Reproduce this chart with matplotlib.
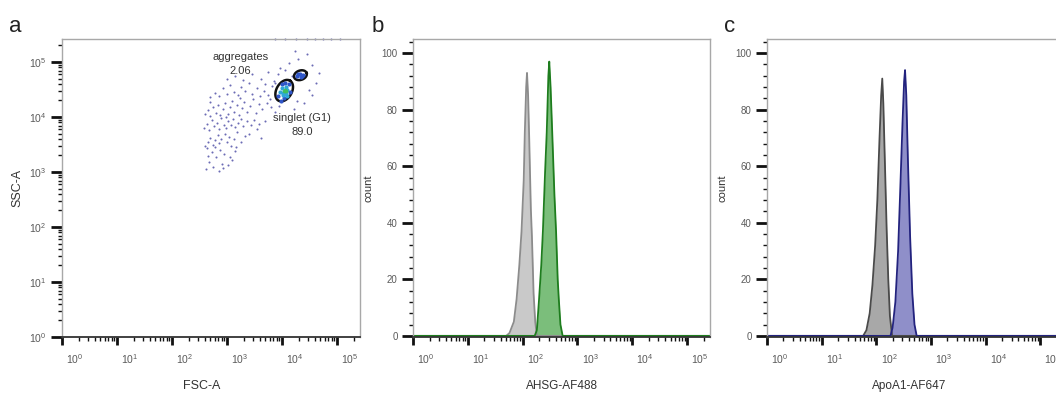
"""
Flow cytometry figure: FSC/SSC gating dot plot (a) and two
fluorescence histograms against an unstained control (b, c).
"""

import matplotlib

matplotlib.use("Agg")
import matplotlib.pyplot as plt
import matplotlib.transforms as mtransforms
import numpy as np
from matplotlib.ticker import LogLocator, MultipleLocator, NullFormatter

plt.rcParams["font.family"] = ["Liberation Sans", "DejaVu Sans"]
plt.rcParams["mathtext.fontset"] = "custom"
plt.rcParams["mathtext.rm"] = "Liberation Sans"
plt.rcParams["mathtext.it"] = "Liberation Sans"

# ---- panel a: FSC-A / SSC-A events (log10 units) --------------------------
cloud_fsc = [
    2.62, 2.68, 2.75, 2.85, 2.93, 3.02, 2.66, 2.72, 2.80, 2.88, 2.95, 3.05, 3.10, 3.14,
    2.60, 2.65, 2.70, 2.74, 2.78, 2.83, 2.86, 2.90, 2.96, 3.00, 3.04, 3.08, 3.12, 3.18,
    3.25, 3.33, 3.40, 3.55, 3.62,
    2.58, 2.63, 2.68, 2.72, 2.77, 2.81, 2.85, 2.90, 2.94, 2.98, 3.02, 3.07, 3.11, 3.15,
    3.20, 3.26, 3.30, 3.36, 3.44, 3.50, 3.58, 3.70,
    2.60, 2.66, 2.70, 2.75, 2.80, 2.84, 2.88, 2.92, 2.97, 3.01, 3.05, 3.09, 3.13, 3.18,
    3.22, 3.27, 3.31, 3.36, 3.42, 3.47, 3.52, 3.58, 3.64, 3.72, 3.80, 3.88,
    2.70, 2.78, 2.86, 2.92, 3.00, 3.06, 3.12, 3.20, 3.26, 3.33, 3.40, 3.46, 3.54, 3.60,
    3.68, 3.75, 3.82,
    3.00, 3.15, 3.30, 3.45, 3.62, 3.75, 3.85, 3.92, 3.96, 4.05, 4.12, 4.18, 4.24, 4.30,
    4.45, 4.55, 4.62, 4.68, 4.50, 4.40, 4.22, 4.28, 3.95, 4.55, 3.70, 3.78, 3.88,
    2.64, 2.79, 2.91, 3.16, 2.69, 2.99, 3.23,
]
cloud_ssc = [
    3.05, 3.18, 3.10, 3.02, 3.08, 3.12, 3.30, 3.36, 3.28, 3.40, 3.33, 3.27, 3.22, 3.38,
    3.48, 3.55, 3.62, 3.50, 3.58, 3.68, 3.52, 3.60, 3.70, 3.55, 3.64, 3.48, 3.60, 3.72,
    3.55, 3.65, 3.70, 3.78, 3.62,
    3.80, 3.88, 3.76, 3.95, 3.84, 3.90, 3.78, 3.98, 3.86, 3.80, 3.92, 3.85, 3.96, 3.82,
    3.90, 3.97, 3.84, 3.92, 3.86, 3.95, 3.88, 3.92,
    4.05, 4.12, 4.02, 4.18, 4.08, 4.22, 4.04, 4.14, 4.26, 4.06, 4.18, 4.30, 4.10, 4.22,
    4.04, 4.16, 4.28, 4.10, 4.20, 4.32, 4.08, 4.24, 4.14, 4.26, 4.18, 4.10,
    4.36, 4.44, 4.38, 4.52, 4.42, 4.58, 4.46, 4.40, 4.55, 4.48, 4.62, 4.42, 4.52, 4.38,
    4.48, 4.40, 4.56,
    4.70, 4.75, 4.68, 4.78, 4.70, 4.82, 4.66, 4.78, 4.90, 4.85, 4.98, 4.75, 5.20, 5.05,
    5.15, 4.95, 4.62, 4.80, 4.50, 4.25, 4.15, 4.30, 4.20, 4.40, 4.60, 4.32, 4.62,
    3.44, 3.46, 3.15, 3.45, 4.28, 4.00, 4.34,
]
# events piled up on the upper scale limit
edge_fsc = [3.88, 4.05, 4.25, 4.45, 4.60, 4.75, 4.90, 5.05]
edge_ssc = [5.41, 5.41, 5.41, 5.41, 5.41, 5.41, 5.41, 5.41]

# dense singlet / aggregate populations, with a density level 0..2
dense_fsc = [3.92, 3.96, 4.00, 4.02, 4.05, 4.07, 4.08, 4.10, 4.12, 4.04, 3.98, 4.14,
             4.00, 4.09, 4.06, 4.03, 4.06, 4.01, 4.08,
             4.28, 4.32, 4.36, 4.34, 4.30, 4.39]
dense_ssc = [4.38, 4.45, 4.52, 4.40, 4.48, 4.55, 4.42, 4.50, 4.60, 4.35, 4.30, 4.46,
             4.60, 4.38, 4.62, 4.47, 4.50, 4.44, 4.47,
             4.74, 4.78, 4.75, 4.72, 4.79, 4.77]
dense_level = [0, 1, 1, 1, 2, 1, 1, 1, 0, 0, 0, 0,
               0, 1, 0, 2, 2, 1, 2,
               0, 0, 0, 0, 0, 0]

# gates: centre (log fsc, log ssc), semi-axes (decades), angle (deg)
gate_names = ["singlet (G1)", "aggregates"]
gate_pct = ["89.0", "2.06"]
gate_center = [(4.04, 4.48), (4.335, 4.76)]
gate_axes = [(0.21, 0.14), (0.12, 0.085)]
gate_angle = [60, 20]

# ---- panels b, c: histograms (log10 intensity, count) ---------------------
b_ctrl_x = [0, 1.70, 1.76, 1.84, 1.89, 1.94, 1.98, 2.02, 2.04, 2.065, 2.08, 2.10,
            2.12, 2.15, 2.17, 2.20, 2.23, 2.26, 5.42]
b_ctrl_y = [0, 0, 1, 5, 13, 25, 37, 55, 72, 88, 93, 85, 70, 45, 35, 15, 5, 0, 0]
b_stain_x = [0, 2.22, 2.26, 2.30, 2.34, 2.37, 2.41, 2.44, 2.47, 2.486, 2.51, 2.54,
             2.58, 2.61, 2.64, 2.66, 2.69, 2.73, 5.42]
b_stain_y = [0, 0, 2, 13, 25, 37, 58, 72, 92, 97, 88, 72, 50, 37, 20, 13, 4, 0, 0]

c_ctrl_x = [0, 1.76, 1.82, 1.88, 1.93, 1.98, 2.02, 2.06, 2.09, 2.11, 2.13, 2.16,
            2.19, 2.22, 2.25, 2.29, 5.42]
c_ctrl_y = [0, 0, 2, 8, 18, 32, 48, 70, 85, 91, 82, 60, 38, 20, 7, 0, 0]
c_stain_x = [0, 2.26, 2.30, 2.35, 2.40, 2.44, 2.48, 2.51, 2.527, 2.55, 2.58, 2.62,
             2.66, 2.70, 2.74, 5.42]
c_stain_y = [0, 0, 3, 12, 30, 52, 75, 90, 94, 85, 62, 35, 15, 4, 0, 0]

SCALE_MAX = 262144
DPI = 100
W, H = 1056, 395


def px_axes(fig, left, right, top=39, bottom=337):
    return fig.add_axes([left / W, 1 - bottom / H, (right - left) / W, (bottom - top) / H])


def style_log_axis(axis):
    axis.set_major_locator(LogLocator(base=10, numticks=10))
    axis.set_minor_locator(LogLocator(base=10, subs=np.arange(2, 10), numticks=20))
    axis.set_minor_formatter(NullFormatter())


def style_frame(ax):
    for side in ["top", "right", "left"]:
        ax.spines[side].set_color("#a8a8a8")
        ax.spines[side].set_linewidth(1.0)
    ax.spines["bottom"].set_color("#333333")
    ax.spines["bottom"].set_linewidth(1.3)
    ax.tick_params(which="major", direction="out", length=6, width=2.0,
                   color="#111111", labelsize=7.5, labelcolor="#5a5a5a", pad=5)
    ax.tick_params(which="minor", direction="out", length=3, width=1.0, color="#111111")
    ax.tick_params(axis="y", which="major", length=8, pad=3)


def shift_xlabels(fig, ax, dx_px=13):
    off = mtransforms.ScaledTranslation(dx_px / DPI, 0, fig.dpi_scale_trans)
    for lab in ax.get_xticklabels():
        lab.set_transform(lab.get_transform() + off)


def draw_gate(ax, center, semi, angle):
    t = np.linspace(0, 2 * np.pi, 200)
    a, b = semi
    th = np.deg2rad(angle)
    gx = center[0] + a * np.cos(t) * np.cos(th) - b * np.sin(t) * np.sin(th)
    gy = center[1] + a * np.cos(t) * np.sin(th) + b * np.sin(t) * np.cos(th)
    ax.plot(10 ** gx, 10 ** gy, color="#111111", lw=1.8)


def draw_hist(ax, x, y, face, edge, alpha=1.0):
    xv = 10 ** np.asarray(x, dtype=float)
    ax.fill_between(xv, 0, y, color=face, alpha=alpha, lw=0)
    ax.plot(xv, y, color=edge, lw=1.3)


def main():
    fig = plt.figure(figsize=(W / DPI, H / DPI), dpi=DPI)

    # ---- a ----
    ax = px_axes(fig, 62, 360)
    ax.set_xscale("log")
    ax.set_yscale("log")
    ax.set_xlim(1, SCALE_MAX)
    ax.set_ylim(1, SCALE_MAX)
    ax.scatter(10 ** np.array(cloud_fsc), 10 ** np.array(cloud_ssc), s=2.2,
               color="#3b3b9c", alpha=0.75, lw=0)
    ax.scatter(10 ** np.array(edge_fsc), 10 ** np.array(edge_ssc), s=2.2,
               color="#3b3b9c", alpha=0.75, lw=0, clip_on=False)
    lvl_col = ["#2f56c8", "#2fa8d8", "#3fc060"]
    lvl_size = [9, 9, 7]
    for lv in range(3):
        sel = [i for i, v in enumerate(dense_level) if v == lv]
        ax.scatter([10 ** dense_fsc[i] for i in sel], [10 ** dense_ssc[i] for i in sel],
                   s=lvl_size[lv], color=lvl_col[lv], lw=0, zorder=3)
    for c, s, ang in zip(gate_center, gate_axes, gate_angle):
        draw_gate(ax, c, s, ang)
    ax.text(10 ** 4.36, 10 ** 3.98, gate_names[0], ha="center", va="center",
            fontsize=8, color="#333333")
    ax.text(10 ** 4.36, 10 ** 3.73, gate_pct[0], ha="center", va="center",
            fontsize=8, color="#333333")
    ax.text(10 ** 3.24, 10 ** 5.09, gate_names[1], ha="center", va="center",
            fontsize=8, color="#333333")
    ax.text(10 ** 3.24, 10 ** 4.84, gate_pct[1], ha="center", va="center",
            fontsize=8, color="#333333")
    style_log_axis(ax.xaxis)
    style_log_axis(ax.yaxis)
    style_frame(ax)
    ax.set_xlabel("FSC-A", fontsize=9, color="#333333")
    ax.set_ylabel("SSC-A", fontsize=9, color="#333333", labelpad=4)
    ax.xaxis.set_label_coords(0.47, -0.145)
    shift_xlabels(fig, ax)

    # ---- b, c ----
    hist_panels = [
        (413, 710, b_ctrl_x, b_ctrl_y, b_stain_x, b_stain_y,
         ("#c9c9c9", "#8c8c8c"), ("#4fa84f", "#1e7d1e"), "AHSG-AF488", 0.5),
        (767, 1063, c_ctrl_x, c_ctrl_y, c_stain_x, c_stain_y,
         ("#a8a8a8", "#4a4a4a"), ("#6a6ab8", "#23237e"), "ApoA1-AF647", 0.48),
    ]
    for left, right, cx, cy, sx, sy, ccol, scol, label, lx in hist_panels:
        axh = px_axes(fig, left, right)
        axh.set_xscale("log")
        axh.set_xlim(1, SCALE_MAX)
        axh.set_ylim(-0.4, 105)
        draw_hist(axh, cx, cy, ccol[0], ccol[1])
        draw_hist(axh, sx, sy, scol[0], scol[1], alpha=0.75)
        style_log_axis(axh.xaxis)
        axh.yaxis.set_major_locator(MultipleLocator(20))
        axh.yaxis.set_minor_locator(MultipleLocator(4))
        style_frame(axh)
        axh.tick_params(axis="y", labelsize=7)
        axh.set_xlabel(label, fontsize=8.5, color="#333333")
        axh.xaxis.set_label_coords(lx, -0.145)
        axh.set_ylabel("count", fontsize=8, color="#333333", labelpad=6)
        shift_xlabels(fig, axh)

    for letter, xpx in zip(["a", "b", "c"], [9, 372, 724]):
        fig.text(xpx / W, 1 - 27 / H, letter, fontsize=16, ha="left", va="center",
                 color="#222222")

    fig.savefig("out.png", dpi=DPI)
    plt.close(fig)


if __name__ == "__main__":
    main()
